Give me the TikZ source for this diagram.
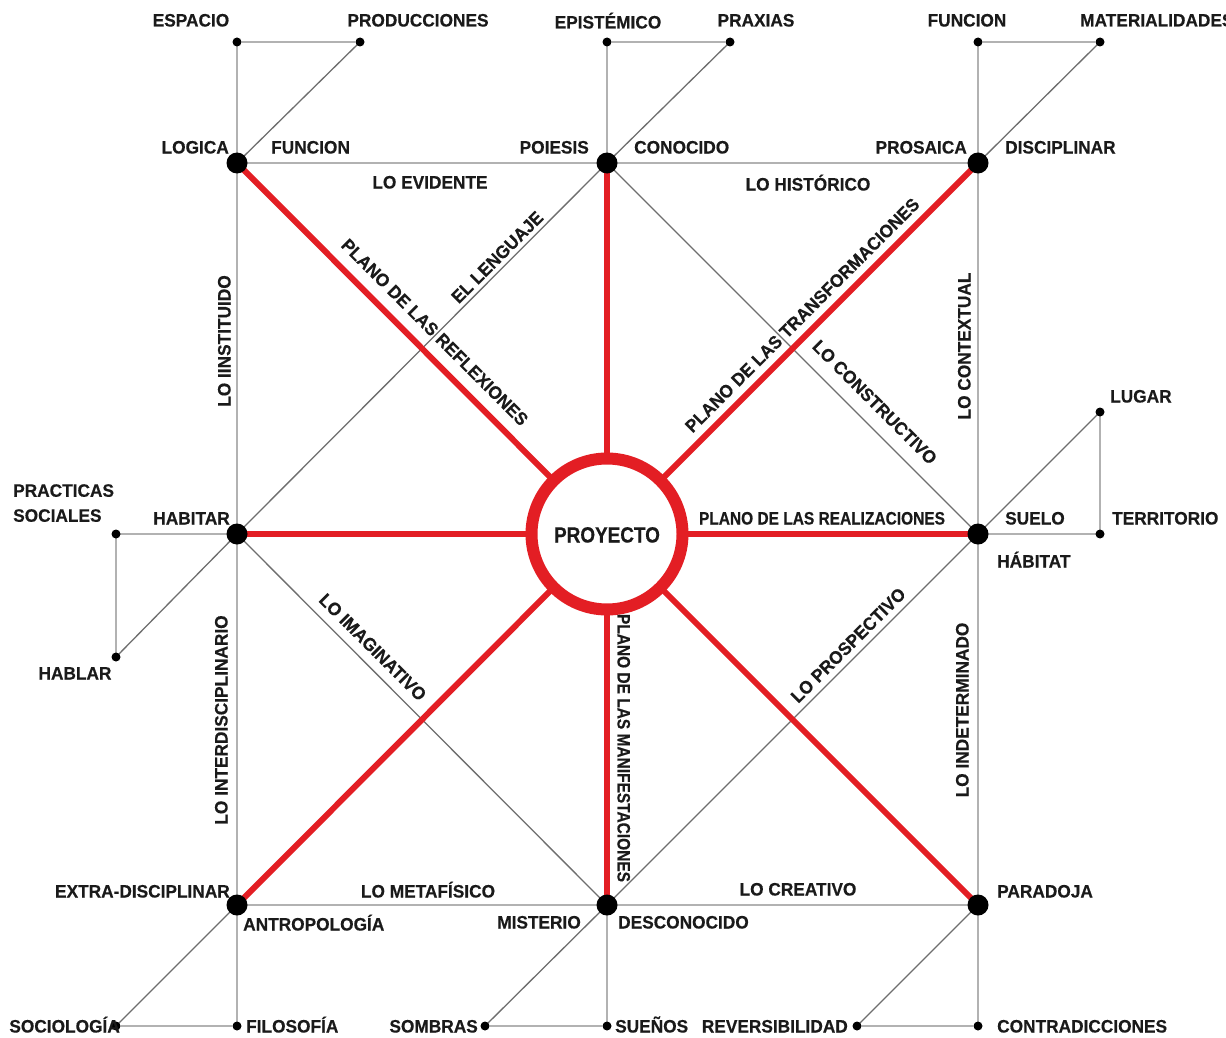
\documentclass[tikz,border=0pt]{standalone}
\usepackage{fontspec}
\newfontfamily\lblfont{Liberation Sans}[FakeStretch=0.96,FakeBold=0.4]
\newfontfamily\lblnarrow{Liberation Sans}[FakeStretch=0.86,FakeBold=0.4]
\definecolor{rojo}{HTML}{E31E24}
\definecolor{grisclaro}{HTML}{B2B2B2}
\definecolor{grisosc}{HTML}{6E6E6E}
\definecolor{texto}{HTML}{1A1A1A}
\pgfdeclarelayer{bg}
\pgfsetlayers{bg,main}
\tikzset{
  bigdot/.style={circle,fill=black,inner sep=0pt,minimum size=21pt},
  smalldot/.style={circle,fill=black,inner sep=0pt,minimum size=9pt},
  frameline/.style={draw=grisclaro,line width=2.6pt},
  diagline/.style={draw=grisosc,line width=1.3pt},
  redline/.style={draw=rojo,line width=6pt},
  ring/.style={circle,draw=rojo,line width=12pt,fill=white,minimum size=151pt,inner sep=0pt},
  lbl/.style={inner sep=0pt,text=texto,text height=13pt,text depth=0pt,
    font=\lblfont\bfseries\fontsize{18}{25}\selectfont},
  lblnw/.style={lbl,font=\lblnarrow\bfseries\fontsize{18}{25}\selectfont},
}
\begin{document}
\begin{tikzpicture}[x=1pt,y=-1pt]
\useasboundingbox (0,0) rectangle (1226,1038);
% main dots
\node[bigdot] (log) at (237,163) {};
\node[bigdot] (poi) at (607,163) {};
\node[bigdot] (pro) at (978,163) {};
\node[bigdot] (hab) at (237,534) {};
\node[bigdot] (sue) at (978,534) {};
\node[bigdot] (bl) at (237,905) {};
\node[bigdot] (bm) at (607,905) {};
\node[bigdot] (par) at (978,905) {};
% small dots
\node[smalldot] (esp) at (237,42) {};
\node[smalldot] (prd) at (360,42) {};
\node[smalldot] (epi) at (607,42) {};
\node[smalldot] (pra) at (730,42) {};
\node[smalldot] (fun) at (978,42) {};
\node[smalldot] (mat) at (1100,42) {};
\node[smalldot] (lug) at (1100,412) {};
\node[smalldot] (ter) at (1100,534) {};
\node[smalldot] (pso) at (116,534) {};
\node[smalldot] (hbl) at (116,657) {};
\node[smalldot] (soc) at (116,1026) {};
\node[smalldot] (fil) at (237,1026) {};
\node[smalldot] (som) at (485,1026) {};
\node[smalldot] (sue2) at (607,1026) {};
\node[smalldot] (rev) at (857,1026) {};
\node[smalldot] (con) at (978,1026) {};
% center
\node[ring] (pry) at (607,534) {};
\node[lbl,font=\lblnarrow\bfseries\fontsize{22}{24}\selectfont,text height=15pt] (tpry) at (607,535) {PROYECTO};
\begin{pgfonlayer}{bg}
\fill[white] (0,0) rectangle (1226,1038);
% frame lines
\path[frameline] (esp.center) -- (log.center) -- (hab.center) -- (bl.center) -- (fil.center);
\path[frameline] (fun.center) -- (pro.center) -- (sue.center) -- (par.center) -- (con.center);
\path[frameline] (log.center) -- (poi.center) -- (pro.center);
\path[frameline] (bl.center) -- (bm.center) -- (par.center);
\path[frameline] (epi.center) -- (poi.center);
\path[frameline] (bm.center) -- (sue2.center);
\path[frameline] (esp) -- (prd);
\path[frameline] (epi) -- (pra);
\path[frameline] (fun) -- (mat);
\path[frameline] (pso.center) -- (hab.center);
\path[frameline] (pso.center) -- (hbl.center);
\path[frameline] (sue.center) -- (ter.center);
\path[frameline] (ter.center) -- (lug.center);
\path[frameline] (soc) -- (fil);
\path[frameline] (som) -- (sue2);
\path[frameline] (rev) -- (con);
% thin diagonals
\path[diagline] (log.center) -- (prd.center);
\path[diagline] (poi.center) -- (pra.center);
\path[diagline] (pro.center) -- (mat.center);
\path[diagline] (hab.center) -- (hbl.center);
\path[diagline] (sue.center) -- (lug.center);
\path[diagline] (bl.center) -- (soc.center);
\path[diagline] (bm.center) -- (som.center);
\path[diagline] (par.center) -- (rev.center);
\path[diagline] (hab.center) -- (poi.center) -- (sue.center) -- (bm.center) -- cycle;
% red lines
\foreach \n in {log,poi,pro,hab,sue,bl,bm,par}{
  \path[redline] (pry.center) -- (\n.center);
}
\end{pgfonlayer}
% top labels
\node[lbl] (tesp) at (191,20) {ESPACIO};
\node[lbl] (tprd) at (418,20) {PRODUCCIONES};
\node[lbl] (tepi) at (608,22) {EPISTÉMICO};
\node[lbl] (tpra) at (756,20) {PRAXIAS};
\node[lbl] (tfun) at (967,20) {FUNCION};
\node[lbl,anchor=west] (tmat) at (1080,20) {MATERIALIDADES};
% row 147
\node[lbl,anchor=east] (tlog) at (229,147) {LOGICA};
\node[lbl,anchor=west] (tfun2) at (271,147) {FUNCION};
\node[lbl,anchor=east] (tpoi) at (589,147) {POIESIS};
\node[lbl,anchor=west] (tcon) at (634,147) {CONOCIDO};
\node[lbl,anchor=east] (tpro) at (967,147) {PROSAICA};
\node[lbl,anchor=west] (tdis) at (1005,147) {DISCIPLINAR};
\node[lbl] (tevi) at (430,182) {LO EVIDENTE};
\node[lbl] (this) at (808,184) {LO HISTÓRICO};
% vertical labels
\node[lbl,rotate=90] (tins) at (224,341) {LO IINSTITUIDO};
\node[lbl,rotate=90] (tctx) at (964,346) {LO CONTEXTUAL};
\node[lbl,rotate=90] (tint) at (221,720) {LO INTERDISCIPLINARIO};
\node[lbl,rotate=90] (tind) at (962,710) {LO INDETERMINADO};
\node[lblnw,rotate=-90] (tman) at (624,748) {PLANO DE LAS MANIFESTACIONES};
% diagonal labels
\node[lbl,rotate=45] (tlen) at (497,257) {EL LENGUAJE};
\node[lbl,rotate=-45] (tref) at (435,332) {PLANO DE LAS REFLEXIONES};
\node[lbl,rotate=45] (ttra) at (802,315) {PLANO DE LAS TRANSFORMACIONES};
\node[lbl,rotate=-45] (tcst) at (875,402) {LO CONSTRUCTIVO};
\node[lbl,rotate=-45] (timg) at (373,647) {LO IMAGINATIVO};
\node[lbl,rotate=45] (tpsp) at (848,645) {LO PROSPECTIVO};
% middle row
\node[lblnw] (treal) at (822,518) {PLANO DE LAS REALIZACIONES};
\node[lbl,anchor=east] (thab) at (230,518) {HABITAR};
\node[lbl,anchor=north west,align=left,text height=,text depth=] (tpso) at (13,484) {PRACTICAS\\SOCIALES};
\node[lbl] (thbl) at (75,673) {HABLAR};
\node[lbl,anchor=west] (tlug) at (1110,396) {LUGAR};
\node[lbl,anchor=west] (tter) at (1112,518) {TERRITORIO};
\node[lbl,anchor=west] (tsue) at (1005,518) {SUELO};
\node[lbl,anchor=west] (thbt) at (997,561) {HÁBITAT};
% bottom row
\node[lbl,anchor=east] (text) at (230,891) {EXTRA-DISCIPLINAR};
\node[lbl,anchor=west] (tant) at (243,924) {ANTROPOLOGÍA};
\node[lbl] (tmet) at (428,891) {LO METAFÍSICO};
\node[lbl,anchor=east] (tmis) at (581,922) {MISTERIO};
\node[lbl,anchor=west] (tdes) at (618,922) {DESCONOCIDO};
\node[lbl] (tcre) at (798,889) {LO CREATIVO};
\node[lbl,anchor=west] (tpar) at (997,891) {PARADOJA};
\node[lbl,anchor=east] (tsoc) at (120,1026) {SOCIOLOGÍA};
\node[lbl,anchor=west] (tfil) at (246,1026) {FILOSOFÍA};
\node[lbl,anchor=east] (tsom) at (478,1026) {SOMBRAS};
\node[lbl,anchor=west] (tsuen) at (615,1026) {SUEÑOS};
\node[lbl,anchor=east] (trev) at (848,1026) {REVERSIBILIDAD};
\node[lbl,anchor=west] (tcontr) at (997,1026) {CONTRADICCIONES};
\end{tikzpicture}
\end{document}
